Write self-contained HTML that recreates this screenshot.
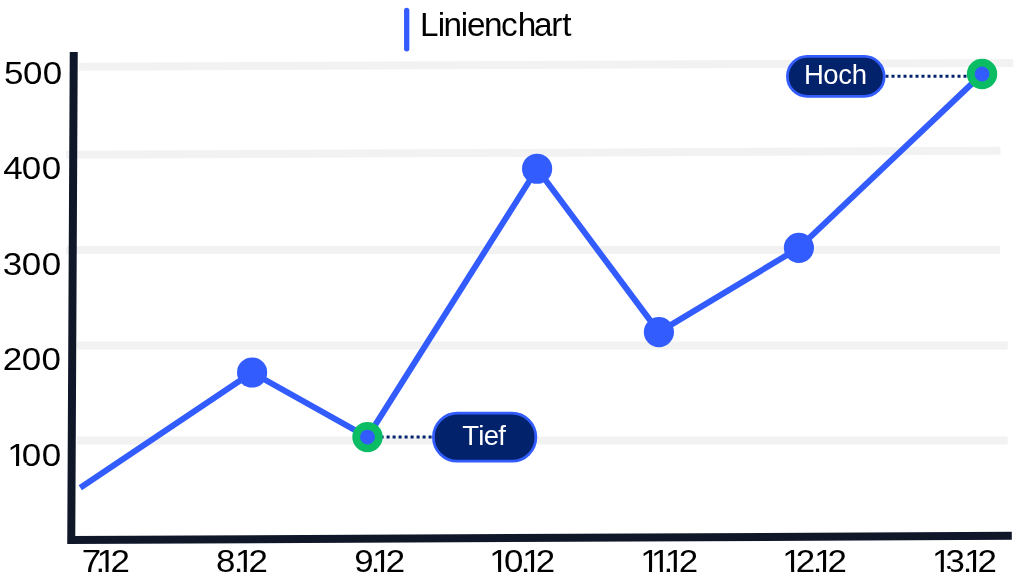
<!DOCTYPE html>
<html lang="de"><head><meta charset="utf-8"><title>Linienchart</title>
<style>
html,body{margin:0;padding:0;background:#fff;}
body{width:1025px;height:585px;overflow:hidden;}
svg{display:block;font-family:"Liberation Sans",sans-serif;}
</style></head><body>
<svg width="1025" height="585" viewBox="0 0 1025 585">
<rect width="1025" height="585" fill="#fff"/>
<g stroke="#f2f2f2" stroke-width="8" fill="none">
<line x1="79" y1="66.7" x2="1013.25" y2="63"/>
<line x1="66" y1="154.75" x2="1000.5" y2="150.8"/>
<line x1="66" y1="250.1" x2="1000" y2="250.1"/>
<line x1="76.9" y1="345.5" x2="1007.7" y2="345.5"/>
<line x1="76.9" y1="440.4" x2="1007.7" y2="440.5"/>
</g>
<polyline points="73.75,51.9 71.25,539.95 1011.8,535.85" fill="none" stroke="#101729" stroke-width="8" stroke-linejoin="miter"/>
<polyline points="80.3,487.75 252.1,372.5 367.5,437.1 537.1,168.75 658.9,332.1 798.9,247.9 982.05,74" fill="none" stroke="#335cff" stroke-width="6" stroke-linejoin="round"/>
<circle cx="252.1" cy="372.5" r="15.1" fill="#335cff"/>
<circle cx="537.1" cy="168.75" r="15.1" fill="#335cff"/>
<circle cx="658.9" cy="332.1" r="15.1" fill="#335cff"/>
<circle cx="798.9" cy="247.9" r="15.1" fill="#335cff"/>
<g stroke="#02226b" stroke-width="3" stroke-dasharray="3 3" fill="none">
<line x1="380.6" y1="437" x2="433" y2="437"/>
<line x1="885.5" y1="76.25" x2="968" y2="76.25"/>
</g>
<circle cx="367.5" cy="437.1" r="11.3" fill="#335cff" stroke="#0abd64" stroke-width="7.8"/>
<circle cx="982.05" cy="74" r="11.3" fill="#335cff" stroke="#0abd64" stroke-width="7.8"/>
<rect x="433.4" y="413.2" width="102.5" height="48" rx="24" fill="#02226b" stroke="#335cff" stroke-width="2.75"/>
<rect x="787.4" y="56.4" width="96.8" height="40" rx="20" fill="#02226b" stroke="#335cff" stroke-width="2.75"/>
<text x="462.28 478.36 483.83 498.21" y="444.75" font-size="27.5" fill="#fff">Tief</text>
<text x="803.89 823.15 838.23 851.69" y="83.80" font-size="27.5" fill="#fff">Hoch</text>
<line x1="406.7" y1="10.45" x2="406.7" y2="48.75" stroke="#335cff" stroke-width="5.3" stroke-linecap="round"/>
<text x="419.97 437.77 443.59 460.87 467.09 483.89 500.99 517.69 533.99 551.19 562.20" y="35.90" font-size="33.3" fill="#000">Linienchart</text>
<defs><mask id="m" maskUnits="userSpaceOnUse" x="0" y="0" width="1025" height="585"><rect width="1025" height="585" fill="#fff"/>
<rect x="8.37" y="462.80" width="7.63" height="3.60" fill="#000"/>
<rect x="19.10" y="462.80" width="7.36" height="3.60" fill="#000"/>
<rect x="101.92" y="568.88" width="3.60" height="3.57" fill="#000"/>
<rect x="108.60" y="568.88" width="3.70" height="3.57" fill="#000"/>
<rect x="240.32" y="568.88" width="3.40" height="3.57" fill="#000"/>
<rect x="246.80" y="568.88" width="3.40" height="3.57" fill="#000"/>
<rect x="377.22" y="568.88" width="3.70" height="3.57" fill="#000"/>
<rect x="384.00" y="568.88" width="3.40" height="3.57" fill="#000"/>
<rect x="490.51" y="568.88" width="7.61" height="3.57" fill="#000"/>
<rect x="501.20" y="568.88" width="7.34" height="3.57" fill="#000"/>
<rect x="527.32" y="568.88" width="3.60" height="3.57" fill="#000"/>
<rect x="534.00" y="568.88" width="3.60" height="3.57" fill="#000"/>
<rect x="641.31" y="568.88" width="7.61" height="3.57" fill="#000"/>
<rect x="652.00" y="568.88" width="7.34" height="3.57" fill="#000"/>
<rect x="652.21" y="568.88" width="7.61" height="3.57" fill="#000"/>
<rect x="662.90" y="568.88" width="3.80" height="3.57" fill="#000"/>
<rect x="670.02" y="568.88" width="3.70" height="3.57" fill="#000"/>
<rect x="676.80" y="568.88" width="3.80" height="3.57" fill="#000"/>
<rect x="783.51" y="568.88" width="7.61" height="3.57" fill="#000"/>
<rect x="794.20" y="568.88" width="3.30" height="3.57" fill="#000"/>
<rect x="819.22" y="568.88" width="3.70" height="3.57" fill="#000"/>
<rect x="826.00" y="568.88" width="3.30" height="3.57" fill="#000"/>
<rect x="933.11" y="568.88" width="7.61" height="3.57" fill="#000"/>
<rect x="943.80" y="568.88" width="7.34" height="3.57" fill="#000"/>
<rect x="969.22" y="568.88" width="3.70" height="3.57" fill="#000"/>
<rect x="976.00" y="568.88" width="3.30" height="3.57" fill="#000"/>
</mask></defs>
<g mask="url(#m)">
<text transform="scale(1.09,1)" x="3.76 21.04 39.20" y="84.10" font-size="32.1" fill="#000">500</text>
<text transform="scale(1.09,1)" x="3.02 20.03 38.38" y="178.90" font-size="32.1" fill="#000">400</text>
<text transform="scale(1.09,1)" x="2.54 20.03 38.38" y="275.10" font-size="32.1" fill="#000">300</text>
<text transform="scale(1.09,1)" x="2.61 19.94 38.10" y="369.80" font-size="32.1" fill="#000">200</text>
<text transform="scale(1.09,1)" x="6.61 20.03 38.38" y="465.80" font-size="32.1" fill="#000">100</text>
<text transform="scale(1.1,1)" x="74.28 86.74 87.95 100.50" y="571.85" font-size="31.7" fill="#000">7.12</text>
<text transform="scale(1.1,1)" x="196.44 212.56 213.59 225.86" y="571.85" font-size="31.7" fill="#000">8.12</text>
<text transform="scale(1.1,1)" x="321.97 337.01 338.32 350.59" y="571.85" font-size="31.7" fill="#000">9.12</text>
<text transform="scale(1.1,1)" x="444.86 458.22 473.47 474.68 487.13" y="571.85" font-size="31.7" fill="#000">10.12</text>
<text transform="scale(1.1,1)" x="581.95 591.86 603.20 604.50 617.13" y="571.85" font-size="31.7" fill="#000">11.12</text>
<text transform="scale(1.1,1)" x="711.23 723.41 738.83 740.14 752.31" y="571.85" font-size="31.7" fill="#000">12.12</text>
<text transform="scale(1.1,1)" x="847.23 859.61 875.20 876.50 888.68" y="571.85" font-size="31.7" fill="#000">13.12</text>
</g>
</svg>
</body></html>
